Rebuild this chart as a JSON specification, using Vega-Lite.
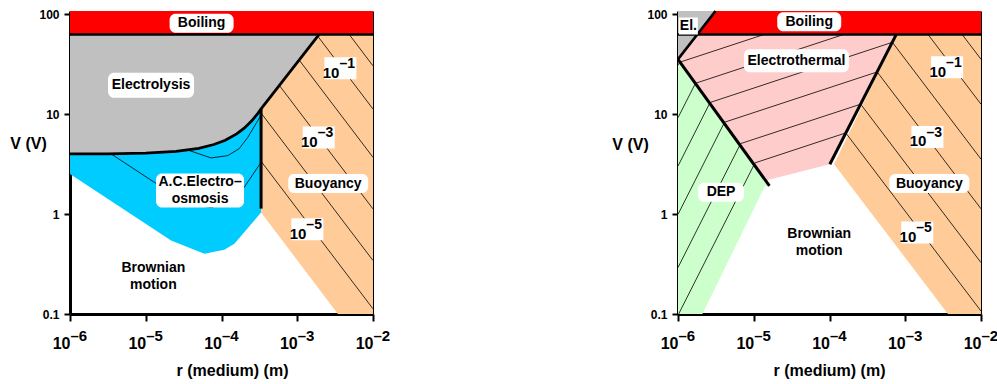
{
  "$schema": "https://vega.github.io/schema/vega-lite/v6.json",
  "padding": {"left": 9, "top": 5, "right": 0, "bottom": 5},
  "bounds": "flush",
  "spacing": 305,
  "config": {
    "font": "Liberation Sans",
    "view": {"stroke": null},
    "axis": {"labelFont": "Liberation Sans", "titleFont": "Liberation Sans", "grid": false}
  },
  "datasets": {
    "regions": [
      {"p":"L","poly":"L1","zone":"boiling","i":0,"r":1e-6,"V":108},
      {"p":"L","poly":"L1","zone":"boiling","i":1,"r":1e-2,"V":108},
      {"p":"L","poly":"L1","zone":"boiling","i":2,"r":1e-2,"V":63},
      {"p":"L","poly":"L1","zone":"boiling","i":3,"r":1e-6,"V":63},
      {"p":"L","poly":"L2","zone":"electrolysis","i":0,"r":1e-6,"V":63},
      {"p":"L","poly":"L2","zone":"electrolysis","i":1,"r":1e-6,"V":4.0},
      {"p":"L","poly":"L2","zone":"electrolysis","i":2,"r":3.16e-6,"V":4.01},
      {"p":"L","poly":"L2","zone":"electrolysis","i":3,"r":1e-5,"V":4.07},
      {"p":"L","poly":"L2","zone":"electrolysis","i":4,"r":2.51e-5,"V":4.25},
      {"p":"L","poly":"L2","zone":"electrolysis","i":5,"r":5.01e-5,"V":4.56},
      {"p":"L","poly":"L2","zone":"electrolysis","i":6,"r":7.94e-5,"V":4.97},
      {"p":"L","poly":"L2","zone":"electrolysis","i":7,"r":1.122e-4,"V":5.5},
      {"p":"L","poly":"L2","zone":"electrolysis","i":8,"r":1.585e-4,"V":6.36},
      {"p":"L","poly":"L2","zone":"electrolysis","i":9,"r":1.995e-4,"V":7.26},
      {"p":"L","poly":"L2","zone":"electrolysis","i":10,"r":2.51e-4,"V":8.59},
      {"p":"L","poly":"L2","zone":"electrolysis","i":11,"r":3.02e-4,"V":10.2},
      {"p":"L","poly":"L2","zone":"electrolysis","i":12,"r":3.33e-4,"V":11.3},
      {"p":"L","poly":"L2","zone":"electrolysis","i":13,"r":1.945e-3,"V":63},
      {"p":"L","poly":"L3","zone":"aceo","i":0,"r":1e-6,"V":4.0},
      {"p":"L","poly":"L3","zone":"aceo","i":1,"r":3.16e-6,"V":4.01},
      {"p":"L","poly":"L3","zone":"aceo","i":2,"r":1e-5,"V":4.07},
      {"p":"L","poly":"L3","zone":"aceo","i":3,"r":2.51e-5,"V":4.25},
      {"p":"L","poly":"L3","zone":"aceo","i":4,"r":5.01e-5,"V":4.56},
      {"p":"L","poly":"L3","zone":"aceo","i":5,"r":7.94e-5,"V":4.97},
      {"p":"L","poly":"L3","zone":"aceo","i":6,"r":1.122e-4,"V":5.5},
      {"p":"L","poly":"L3","zone":"aceo","i":7,"r":1.585e-4,"V":6.36},
      {"p":"L","poly":"L3","zone":"aceo","i":8,"r":1.995e-4,"V":7.26},
      {"p":"L","poly":"L3","zone":"aceo","i":9,"r":2.51e-4,"V":8.59},
      {"p":"L","poly":"L3","zone":"aceo","i":10,"r":3.02e-4,"V":10.2},
      {"p":"L","poly":"L3","zone":"aceo","i":11,"r":3.33e-4,"V":11.3},
      {"p":"L","poly":"L3","zone":"aceo","i":12,"r":3.33e-4,"V":1.04},
      {"p":"L","poly":"L3","zone":"aceo","i":13,"r":1.479e-4,"V":0.504},
      {"p":"L","poly":"L3","zone":"aceo","i":14,"r":1.091e-4,"V":0.439},
      {"p":"L","poly":"L3","zone":"aceo","i":15,"r":5.94e-5,"V":0.40},
      {"p":"L","poly":"L3","zone":"aceo","i":16,"r":2.16e-5,"V":0.543},
      {"p":"L","poly":"L3","zone":"aceo","i":17,"r":1e-6,"V":2.52},
      {"p":"L","poly":"L4","zone":"buoyancy","i":0,"r":3.33e-4,"V":11.3},
      {"p":"L","poly":"L4","zone":"buoyancy","i":1,"r":1.945e-3,"V":63},
      {"p":"L","poly":"L4","zone":"buoyancy","i":2,"r":1e-2,"V":63},
      {"p":"L","poly":"L4","zone":"buoyancy","i":3,"r":1e-2,"V":0.1},
      {"p":"L","poly":"L4","zone":"buoyancy","i":4,"r":3.44e-3,"V":0.1},
      {"p":"L","poly":"L4","zone":"buoyancy","i":5,"r":3.33e-4,"V":1.04},
      {"p":"R","poly":"R1","zone":"boiling","i":0,"r":3.13e-6,"V":108},
      {"p":"R","poly":"R1","zone":"boiling","i":1,"r":1e-2,"V":108},
      {"p":"R","poly":"R1","zone":"boiling","i":2,"r":1e-2,"V":63},
      {"p":"R","poly":"R1","zone":"boiling","i":3,"r":1.8e-6,"V":63},
      {"p":"R","poly":"R2","zone":"electrolysis","i":0,"r":1e-6,"V":108},
      {"p":"R","poly":"R2","zone":"electrolysis","i":1,"r":3.13e-6,"V":108},
      {"p":"R","poly":"R2","zone":"electrolysis","i":2,"r":1e-6,"V":35.5},
      {"p":"R","poly":"R3","zone":"electrothermal","i":0,"r":1e-6,"V":35.5},
      {"p":"R","poly":"R3","zone":"electrothermal","i":1,"r":1.8e-6,"V":63},
      {"p":"R","poly":"R3","zone":"electrothermal","i":2,"r":7.62e-4,"V":63},
      {"p":"R","poly":"R3","zone":"electrothermal","i":3,"r":1.01e-4,"V":3.16},
      {"p":"R","poly":"R3","zone":"electrothermal","i":4,"r":1.528e-5,"V":2.2},
      {"p":"R","poly":"R3","zone":"electrothermal","i":5,"r":1.61e-5,"V":1.92},
      {"p":"R","poly":"R4","zone":"dep","i":0,"r":1e-6,"V":35.5},
      {"p":"R","poly":"R4","zone":"dep","i":1,"r":1.61e-5,"V":1.92},
      {"p":"R","poly":"R4","zone":"dep","i":2,"r":1.413e-5,"V":1.92},
      {"p":"R","poly":"R4","zone":"dep","i":3,"r":2.1e-6,"V":0.1},
      {"p":"R","poly":"R4","zone":"dep","i":4,"r":1e-6,"V":0.1},
      {"p":"R","poly":"R5","zone":"buoyancy","i":0,"r":7.62e-4,"V":63},
      {"p":"R","poly":"R5","zone":"buoyancy","i":1,"r":1e-2,"V":63},
      {"p":"R","poly":"R5","zone":"buoyancy","i":2,"r":1e-2,"V":0.1},
      {"p":"R","poly":"R5","zone":"buoyancy","i":3,"r":3.66e-3,"V":0.1},
      {"p":"R","poly":"R5","zone":"buoyancy","i":4,"r":1.15e-4,"V":3.16}
    ],
    "thick": [
      {"p":"L","id":"Lb","kind":"boil","i":0,"r":1e-6,"V":63},
      {"p":"L","id":"Lb","kind":"boil","i":1,"r":1e-2,"V":63},
      {"p":"L","id":"Lc","kind":"curve","i":0,"r":1e-6,"V":4.0},
      {"p":"L","id":"Lc","kind":"curve","i":1,"r":3.16e-6,"V":4.01},
      {"p":"L","id":"Lc","kind":"curve","i":2,"r":1e-5,"V":4.07},
      {"p":"L","id":"Lc","kind":"curve","i":3,"r":2.51e-5,"V":4.25},
      {"p":"L","id":"Lc","kind":"curve","i":4,"r":5.01e-5,"V":4.56},
      {"p":"L","id":"Lc","kind":"curve","i":5,"r":7.94e-5,"V":4.97},
      {"p":"L","id":"Lc","kind":"curve","i":6,"r":1.122e-4,"V":5.5},
      {"p":"L","id":"Lc","kind":"curve","i":7,"r":1.585e-4,"V":6.36},
      {"p":"L","id":"Lc","kind":"curve","i":8,"r":1.995e-4,"V":7.26},
      {"p":"L","id":"Lc","kind":"curve","i":9,"r":2.51e-4,"V":8.59},
      {"p":"L","id":"Lc","kind":"curve","i":10,"r":3.02e-4,"V":10.2},
      {"p":"L","id":"Lc","kind":"curve","i":11,"r":3.33e-4,"V":11.3},
      {"p":"L","id":"Lc","kind":"curve","i":12,"r":1.945e-3,"V":63},
      {"p":"L","id":"Lbar","kind":"bar","i":0,"r":3.33e-4,"V":11.3},
      {"p":"L","id":"Lbar","kind":"bar","i":1,"r":3.33e-4,"V":1.135},
      {"p":"R","id":"Rb","kind":"boil","i":0,"r":1e-6,"V":63},
      {"p":"R","id":"Rb","kind":"boil","i":1,"r":1e-2,"V":63},
      {"p":"R","id":"Rel","kind":"curve","i":0,"r":1e-6,"V":35.5},
      {"p":"R","id":"Rel","kind":"curve","i":1,"r":3.13e-6,"V":108},
      {"p":"R","id":"Rdep","kind":"bar","i":0,"r":1e-6,"V":35.5},
      {"p":"R","id":"Rdep","kind":"bar","i":1,"r":1.61e-5,"V":1.92},
      {"p":"R","id":"Rright","kind":"bar","i":0,"r":1.01e-4,"V":3.16},
      {"p":"R","id":"Rright","kind":"bar","i":1,"r":7.62e-4,"V":63}
    ],
    "hatch": [
      {"p":"L","id":"hL1","i":0,"r":4.84e-3,"V":63},{"p":"L","id":"hL1","i":1,"r":1e-2,"V":30.5},
      {"p":"L","id":"hL2","i":0,"r":1.862e-3,"V":60.5},{"p":"L","id":"hL2","i":1,"r":1e-2,"V":11.27},
      {"p":"L","id":"hL3","i":0,"r":1.059e-3,"V":34.9},{"p":"L","id":"hL3","i":1,"r":1e-2,"V":3.70},
      {"p":"L","id":"hL4","i":0,"r":5.81e-4,"V":19.4},{"p":"L","id":"hL4","i":1,"r":1e-2,"V":1.127},
      {"p":"L","id":"hL5","i":0,"r":3.33e-4,"V":10.28},{"p":"L","id":"hL5","i":1,"r":1e-2,"V":0.343},
      {"p":"L","id":"hL6","i":0,"r":3.33e-4,"V":3.38},{"p":"L","id":"hL6","i":1,"r":1e-2,"V":0.1127},
      {"p":"L","id":"aL1","i":0,"r":3.48e-6,"V":4.01},
      {"p":"L","id":"aL1","i":1,"r":1.30e-5,"V":2.08},
      {"p":"L","id":"aL1","i":2,"r":3.96e-5,"V":1.27},
      {"p":"L","id":"aL1","i":3,"r":7.29e-5,"V":1.16},
      {"p":"L","id":"aL1","i":4,"r":1.26e-4,"V":1.33},
      {"p":"L","id":"aL1","i":5,"r":1.97e-4,"V":1.83},
      {"p":"L","id":"aL1","i":6,"r":3.33e-4,"V":3.3},
      {"p":"L","id":"aL2","i":0,"r":3.59e-5,"V":4.38},
      {"p":"L","id":"aL2","i":1,"r":7.29e-5,"V":3.65},
      {"p":"L","id":"aL2","i":2,"r":1.21e-4,"V":3.85},
      {"p":"L","id":"aL2","i":3,"r":1.71e-4,"V":4.52},
      {"p":"L","id":"aL2","i":4,"r":2.22e-4,"V":5.86},
      {"p":"L","id":"aL2","i":5,"r":3.33e-4,"V":9.8},
      {"p":"R","id":"hR1","i":0,"r":5.62e-3,"V":63},{"p":"R","id":"hR1","i":1,"r":1e-2,"V":35.5},
      {"p":"R","id":"hR2","i":0,"r":1.995e-3,"V":63},{"p":"R","id":"hR2","i":1,"r":1e-2,"V":12.6},
      {"p":"R","id":"hR3","i":0,"r":6.76e-4,"V":52.5},{"p":"R","id":"hR3","i":1,"r":1e-2,"V":3.55},
      {"p":"R","id":"hR4","i":0,"r":4.26e-4,"V":26.5},{"p":"R","id":"hR4","i":1,"r":1e-2,"V":1.13},
      {"p":"R","id":"hR5","i":0,"r":2.58e-4,"V":12.6},{"p":"R","id":"hR5","i":1,"r":1e-2,"V":0.327},
      {"p":"R","id":"hR6","i":0,"r":1.64e-4,"V":6.5},{"p":"R","id":"hR6","i":1,"r":1e-2,"V":0.107},
      {"p":"R","id":"dR0","i":0,"r":1e-6,"V":30.9},{"p":"R","id":"dR0","i":1,"r":1.047e-6,"V":33.1},
      {"p":"R","id":"dR1","i":0,"r":1e-6,"V":9.23},{"p":"R","id":"dR1","i":1,"r":1.70e-6,"V":20.4},
      {"p":"R","id":"dR2","i":0,"r":1e-6,"V":3.03},{"p":"R","id":"dR2","i":1,"r":2.65e-6,"V":13.1},
      {"p":"R","id":"dR3","i":0,"r":1e-6,"V":0.994},{"p":"R","id":"dR3","i":1,"r":4.12e-6,"V":8.32},
      {"p":"R","id":"dR4","i":0,"r":1e-6,"V":0.292},{"p":"R","id":"dR4","i":1,"r":6.71e-6,"V":5.08},
      {"p":"R","id":"dR5","i":0,"r":1.02e-6,"V":0.1},{"p":"R","id":"dR5","i":1,"r":1.04e-5,"V":3.26},
      {"p":"R","id":"eR1","i":0,"r":1.047e-6,"V":33.1},{"p":"R","id":"eR1","i":1,"r":1.38e-5,"V":63},
      {"p":"R","id":"eR2","i":0,"r":1.70e-6,"V":20.4},{"p":"R","id":"eR2","i":1,"r":1.55e-4,"V":63},
      {"p":"R","id":"eR3","i":0,"r":2.65e-6,"V":13.1},{"p":"R","id":"eR3","i":1,"r":6.76e-4,"V":52.5},
      {"p":"R","id":"eR4","i":0,"r":4.12e-6,"V":8.32},{"p":"R","id":"eR4","i":1,"r":4.26e-4,"V":26.5},
      {"p":"R","id":"eR5","i":0,"r":6.71e-6,"V":5.08},{"p":"R","id":"eR5","i":1,"r":2.58e-4,"V":12.6},
      {"p":"R","id":"eR6","i":0,"r":1.04e-5,"V":3.26},{"p":"R","id":"eR6","i":1,"r":1.64e-4,"V":6.5}
    ],
    "labels": [
      {"p":"L","text":"Boiling","box":"boil","r":5.46e-5,"V":81.3},
      {"p":"L","text":"Electrolysis","box":"electrolysis","r":1.175e-5,"V":19.5},
      {"p":"L","text":"A.C.Electro–\nosmosis","box":"aceo","r":5.21e-5,"V":1.72},
      {"p":"L","text":"Buoyancy","box":"buoy","r":2.56e-3,"V":2.02},
      {"p":"L","text":"Brownian\nmotion","box":"none","r":1.26e-5,"V":0.237},
      {"p":"R","text":"Boiling","box":"boil","r":5.4e-5,"V":84.1},
      {"p":"R","text":"El.","box":"el","r":1.37e-6,"V":76.4},
      {"p":"R","text":"Electrothermal","box":"etherm","r":3.66e-5,"V":34.4},
      {"p":"R","text":"Buoyancy","box":"buoy","r":2.08e-3,"V":2.02},
      {"p":"R","text":"DEP","box":"dep","r":3.7e-6,"V":1.66},
      {"p":"R","text":"Brownian\nmotion","box":"none","r":7.31e-5,"V":0.516}
    ],
    "expo": [
      {"p":"L","base":"10","exp":"–1","r":3.71e-3,"V":28.8},
      {"p":"L","base":"10","exp":"–3","r":1.92e-3,"V":5.86},
      {"p":"L","base":"10","exp":"–5","r":1.36e-3,"V":0.705},
      {"p":"R","base":"10","exp":"–1","r":3.57e-3,"V":29.5},
      {"p":"R","base":"10","exp":"–3","r":1.96e-3,"V":5.93},
      {"p":"R","base":"10","exp":"–5","r":1.44e-3,"V":0.656}
    ]
  },
  "hconcat": [
    {
      "width": 303, "height": 303,
      "resolve": {"axis": {"x": "independent", "y": "independent"}},
      "layer": [
        {
          "data": {"name": "regions"},
          "transform": [{"filter": "datum.p === 'L'"}],
          "mark": {"type": "line", "interpolate": "linear-closed", "strokeWidth": 0, "clip": false},
          "encoding": {
            "x": {"field": "r", "type": "quantitative", "scale": {"type": "log", "domain": [1e-6, 1e-2], "nice": false},
              "axis": {"orient": "bottom", "values": [1e-6, 1e-5, 1e-4, 1e-3, 1e-2], "labelExpr": "'10'", "labelAlign": "right", "labelDx": 3, "labelBaseline": "alphabetic", "labelPadding": 27, "labelFontSize": 16, "labelFontWeight": "bold", "labelColor": "black", "labelFlush": false, "labelOverlap": false, "tickSize": 7, "tickWidth": 2, "tickColor": "black", "domainWidth": 3, "domainColor": "black", "title": "r (medium) (m)", "titleFontSize": 16, "titleFontWeight": "bold", "titleColor": "black", "titleX": 162, "titleY": 56, "titleBaseline": "middle", "titleAlign": "center"}},
            "y": {"field": "V", "type": "quantitative", "scale": {"type": "log", "domain": [0.1, 108], "nice": false},
              "axis": {"orient": "left", "values": [0.1, 1, 10, 100], "labelExpr": "datum.value < 0.5 ? '0.1' : datum.value < 5 ? '1' : datum.value < 50 ? '10' : '100'", "labelFontSize": 12, "labelFontWeight": "bold", "labelColor": "black", "labelPadding": 5, "labelFlush": false, "labelOverlap": false, "tickSize": 6, "tickWidth": 2, "tickColor": "black", "domainWidth": 3, "domainColor": "black", "title": "V (V)", "titleAngle": 0, "titleX": -42, "titleY": 132, "titleAlign": "center", "titleBaseline": "middle", "titleFontSize": 16, "titleFontWeight": "bold", "titleColor": "black"}},
            "detail": {"field": "poly"},
            "order": {"field": "i"},
            "fill": {"field": "zone", "type": "nominal", "scale": {"domain": ["boiling", "electrolysis", "aceo", "buoyancy", "electrothermal", "dep"], "range": ["#FF0000", "#C0C0C0", "#00CCFF", "#FFCC99", "#FFCCCC", "#CCFFCC"]}, "legend": null}
          }
        },
        {
          "data": {"name": "hatch"},
          "transform": [{"filter": "datum.p === 'L'"}],
          "mark": {"type": "line", "color": "black", "strokeWidth": 0.8},
          "encoding": {
            "x": {"field": "r", "type": "quantitative", "scale": {"type": "log", "domain": [1e-6, 1e-2], "nice": false}, "axis": null},
            "y": {"field": "V", "type": "quantitative", "scale": {"type": "log", "domain": [0.1, 108], "nice": false}, "axis": null},
            "detail": {"field": "id"},
            "order": {"field": "i"}
          }
        },
        {
          "data": {"name": "thick"},
          "transform": [{"filter": "datum.p === 'L'"}],
          "mark": {"type": "line", "color": "black"},
          "encoding": {
            "x": {"field": "r", "type": "quantitative", "scale": {"type": "log", "domain": [1e-6, 1e-2], "nice": false},
              "axis": {"orient": "bottom", "values": [1e-6, 1e-5, 1e-4, 1e-3, 1e-2], "labelExpr": "datum.value < 5e-6 ? '–6' : datum.value < 5e-5 ? '–5' : datum.value < 5e-4 ? '–4' : datum.value < 5e-3 ? '–3' : '–2'", "labelAlign": "left", "labelDx": 3, "labelBaseline": "alphabetic", "labelPadding": 26, "labelFontSize": 15, "labelFontWeight": "bold", "labelColor": "black", "labelFlush": false, "labelOverlap": false, "ticks": false, "domain": false, "title": null}},
            "y": {"field": "V", "type": "quantitative", "scale": {"type": "log", "domain": [0.1, 108], "nice": false},
              "axis": {"orient": "right", "values": [0.2, 0.3, 0.4, 0.5, 0.6, 0.7, 0.8, 0.9, 2, 3, 4, 5, 6, 7, 8, 9, 20, 30, 40, 50, 60, 70, 80, 90], "labels": false, "tickSize": -4, "tickWidth": 1, "tickColor": "black", "domainWidth": 1, "domainColor": "black", "title": null}},
            "detail": {"field": "id"},
            "order": {"field": "i"},
            "strokeWidth": {"field": "kind", "type": "nominal", "scale": {"domain": ["boil", "curve", "bar"], "range": [2.5, 3, 5]}, "legend": null}
          }
        },
        {
          "data": {"name": "labels"},
          "transform": [{"filter": "datum.p === 'L' && datum.box !== 'none'"}],
          "mark": {"type": "point", "filled": true, "size": 4, "color": "white", "opacity": 1, "strokeWidth": 0},
          "encoding": {
            "x": {"field": "r", "type": "quantitative", "scale": {"type": "log", "domain": [1e-6, 1e-2], "nice": false}, "axis": null},
            "y": {"field": "V", "type": "quantitative", "scale": {"type": "log", "domain": [0.1, 108], "nice": false}, "axis": null},
            "shape": {"field": "box", "type": "nominal", "legend": null, "scale": {"domain": ["boil", "electrolysis", "aceo", "buoy", "el", "etherm", "dep"], "range": [
              "M-26,-9.5H26A6,6 0 0 1 32,-3.5V3.5A6,6 0 0 1 26,9.5H-26A6,6 0 0 1 -32,3.5V-3.5A6,6 0 0 1 -26,-9.5Z",
              "M-37,-12.5H37A6,6 0 0 1 43,-6.5V6.5A6,6 0 0 1 37,12.5H-37A6,6 0 0 1 -43,6.5V-6.5A6,6 0 0 1 -37,-12.5Z",
              "M-38,-17H38A6,6 0 0 1 44,-11V11A6,6 0 0 1 38,17H-38A6,6 0 0 1 -44,11V-11A6,6 0 0 1 -38,-17Z",
              "M-34,-9.5H34A6,6 0 0 1 40,-3.5V3.5A6,6 0 0 1 34,9.5H-34A6,6 0 0 1 -40,3.5V-3.5A6,6 0 0 1 -34,-9.5Z",
              "M-9.5,-8.5H9.5V8.5H-9.5Z",
              "M-46.5,-11.5H46.5A6,6 0 0 1 52.5,-5.5V5.5A6,6 0 0 1 46.5,11.5H-46.5A6,6 0 0 1 -52.5,5.5V-5.5A6,6 0 0 1 -46.5,-11.5Z",
              "M-17,-9.5H17A6,6 0 0 1 23,-3.5V3.5A6,6 0 0 1 17,9.5H-17A6,6 0 0 1 -23,3.5V-3.5A6,6 0 0 1 -17,-9.5Z"]}}
          }
        },
        {
          "data": {"name": "expo"},
          "transform": [{"filter": "datum.p === 'L'"}],
          "mark": {"type": "point", "filled": true, "size": 4, "color": "white", "opacity": 1, "strokeWidth": 0, "shape": "M-16,-11H16V11H-16Z"},
          "encoding": {
            "x": {"field": "r", "type": "quantitative", "scale": {"type": "log", "domain": [1e-6, 1e-2], "nice": false}, "axis": null},
            "y": {"field": "V", "type": "quantitative", "scale": {"type": "log", "domain": [0.1, 108], "nice": false}, "axis": null}
          }
        },
        {
          "data": {"name": "labels"},
          "transform": [{"filter": "datum.p === 'L' && datum.box !== 'aceo' && datum.box !== 'none'"}],
          "mark": {"type": "text", "fontSize": 14, "fontWeight": "bold", "align": "center", "baseline": "middle", "color": "black"},
          "encoding": {
            "x": {"field": "r", "type": "quantitative", "scale": {"type": "log", "domain": [1e-6, 1e-2], "nice": false}, "axis": null},
            "y": {"field": "V", "type": "quantitative", "scale": {"type": "log", "domain": [0.1, 108], "nice": false}, "axis": null},
            "text": {"field": "text"}
          }
        },
        {
          "data": {"name": "labels"},
          "transform": [{"filter": "datum.p === 'L' && (datum.box === 'aceo' || datum.box === 'none')"}],
          "mark": {"type": "text", "fontSize": 14, "fontWeight": "bold", "lineBreak": "\n", "lineHeight": 17, "align": "center", "baseline": "middle", "dy": -8.5, "color": "black"},
          "encoding": {
            "x": {"field": "r", "type": "quantitative", "scale": {"type": "log", "domain": [1e-6, 1e-2], "nice": false}, "axis": null},
            "y": {"field": "V", "type": "quantitative", "scale": {"type": "log", "domain": [0.1, 108], "nice": false}, "axis": null},
            "text": {"field": "text"}
          }
        },
        {
          "data": {"name": "expo"},
          "transform": [{"filter": "datum.p === 'L'"}],
          "mark": {"type": "text", "fontSize": 15, "fontWeight": "bold", "align": "right", "baseline": "alphabetic", "dx": -1, "dy": 9.5, "color": "black"},
          "encoding": {
            "x": {"field": "r", "type": "quantitative", "scale": {"type": "log", "domain": [1e-6, 1e-2], "nice": false}, "axis": null},
            "y": {"field": "V", "type": "quantitative", "scale": {"type": "log", "domain": [0.1, 108], "nice": false}, "axis": null},
            "text": {"field": "base"}
          }
        },
        {
          "data": {"name": "expo"},
          "transform": [{"filter": "datum.p === 'L'"}],
          "mark": {"type": "text", "fontSize": 14, "fontWeight": "bold", "align": "left", "baseline": "alphabetic", "dx": -1, "dy": 0, "color": "black"},
          "encoding": {
            "x": {"field": "r", "type": "quantitative", "scale": {"type": "log", "domain": [1e-6, 1e-2], "nice": false}, "axis": null},
            "y": {"field": "V", "type": "quantitative", "scale": {"type": "log", "domain": [0.1, 108], "nice": false}, "axis": null},
            "text": {"field": "exp"}
          }
        }
      ]
    },
    {
      "width": 303, "height": 303,
      "resolve": {"axis": {"x": "independent", "y": "independent"}},
      "layer": [
        {
          "data": {"name": "regions"},
          "transform": [{"filter": "datum.p === 'R'"}],
          "mark": {"type": "line", "interpolate": "linear-closed", "strokeWidth": 0, "clip": false},
          "encoding": {
            "x": {"field": "r", "type": "quantitative", "scale": {"type": "log", "domain": [1e-6, 1e-2], "nice": false},
              "axis": {"orient": "bottom", "values": [1e-6, 1e-5, 1e-4, 1e-3, 1e-2], "labelExpr": "'10'", "labelAlign": "right", "labelDx": 3, "labelBaseline": "alphabetic", "labelPadding": 27, "labelFontSize": 16, "labelFontWeight": "bold", "labelColor": "black", "labelFlush": false, "labelOverlap": false, "tickSize": 7, "tickWidth": 2, "tickColor": "black", "domainWidth": 3, "domainColor": "black", "title": "r (medium) (m)", "titleFontSize": 16, "titleFontWeight": "bold", "titleColor": "black", "titleX": 151, "titleY": 56, "titleBaseline": "middle", "titleAlign": "center"}},
            "y": {"field": "V", "type": "quantitative", "scale": {"type": "log", "domain": [0.1, 108], "nice": false},
              "axis": {"orient": "left", "values": [0.1, 1, 10, 100], "labelExpr": "datum.value < 0.5 ? '0.1' : datum.value < 5 ? '1' : datum.value < 50 ? '10' : '100'", "labelFontSize": 12, "labelFontWeight": "bold", "labelColor": "black", "labelPadding": 5, "labelFlush": false, "labelOverlap": false, "tickSize": 6, "tickWidth": 2, "tickColor": "black", "domainWidth": 3, "domainColor": "black", "title": "V (V)", "titleAngle": 0, "titleX": -48, "titleY": 133, "titleAlign": "center", "titleBaseline": "middle", "titleFontSize": 16, "titleFontWeight": "bold", "titleColor": "black"}},
            "detail": {"field": "poly"},
            "order": {"field": "i"},
            "fill": {"field": "zone", "type": "nominal", "scale": {"domain": ["boiling", "electrolysis", "aceo", "buoyancy", "electrothermal", "dep"], "range": ["#FF0000", "#C0C0C0", "#00CCFF", "#FFCC99", "#FFCCCC", "#CCFFCC"]}, "legend": null}
          }
        },
        {
          "data": {"name": "hatch"},
          "transform": [{"filter": "datum.p === 'R'"}],
          "mark": {"type": "line", "color": "black", "strokeWidth": 0.8},
          "encoding": {
            "x": {"field": "r", "type": "quantitative", "scale": {"type": "log", "domain": [1e-6, 1e-2], "nice": false}, "axis": null},
            "y": {"field": "V", "type": "quantitative", "scale": {"type": "log", "domain": [0.1, 108], "nice": false}, "axis": null},
            "detail": {"field": "id"},
            "order": {"field": "i"}
          }
        },
        {
          "data": {"name": "thick"},
          "transform": [{"filter": "datum.p === 'R'"}],
          "mark": {"type": "line", "color": "black"},
          "encoding": {
            "x": {"field": "r", "type": "quantitative", "scale": {"type": "log", "domain": [1e-6, 1e-2], "nice": false},
              "axis": {"orient": "bottom", "values": [1e-6, 1e-5, 1e-4, 1e-3, 1e-2], "labelExpr": "datum.value < 5e-6 ? '–6' : datum.value < 5e-5 ? '–5' : datum.value < 5e-4 ? '–4' : datum.value < 5e-3 ? '–3' : '–2'", "labelAlign": "left", "labelDx": 3, "labelBaseline": "alphabetic", "labelPadding": 26, "labelFontSize": 15, "labelFontWeight": "bold", "labelColor": "black", "labelFlush": false, "labelOverlap": false, "ticks": false, "domain": false, "title": null}},
            "y": {"field": "V", "type": "quantitative", "scale": {"type": "log", "domain": [0.1, 108], "nice": false},
              "axis": {"orient": "right", "values": [0.2, 0.3, 0.4, 0.5, 0.6, 0.7, 0.8, 0.9, 2, 3, 4, 5, 6, 7, 8, 9, 20, 30, 40, 50, 60, 70, 80, 90], "labels": false, "tickSize": -4, "tickWidth": 1, "tickColor": "black", "domainWidth": 1, "domainColor": "black", "title": null}},
            "detail": {"field": "id"},
            "order": {"field": "i"},
            "strokeWidth": {"field": "kind", "type": "nominal", "scale": {"domain": ["boil", "curve", "bar"], "range": [2.5, 3, 5]}, "legend": null}
          }
        },
        {
          "data": {"name": "labels"},
          "transform": [{"filter": "datum.p === 'R' && datum.box !== 'none'"}],
          "mark": {"type": "point", "filled": true, "size": 4, "color": "white", "opacity": 1, "strokeWidth": 0},
          "encoding": {
            "x": {"field": "r", "type": "quantitative", "scale": {"type": "log", "domain": [1e-6, 1e-2], "nice": false}, "axis": null},
            "y": {"field": "V", "type": "quantitative", "scale": {"type": "log", "domain": [0.1, 108], "nice": false}, "axis": null},
            "shape": {"field": "box", "type": "nominal", "legend": null, "scale": {"domain": ["boil", "electrolysis", "aceo", "buoy", "el", "etherm", "dep"], "range": [
              "M-26,-9.5H26A6,6 0 0 1 32,-3.5V3.5A6,6 0 0 1 26,9.5H-26A6,6 0 0 1 -32,3.5V-3.5A6,6 0 0 1 -26,-9.5Z",
              "M-37,-12.5H37A6,6 0 0 1 43,-6.5V6.5A6,6 0 0 1 37,12.5H-37A6,6 0 0 1 -43,6.5V-6.5A6,6 0 0 1 -37,-12.5Z",
              "M-38,-17H38A6,6 0 0 1 44,-11V11A6,6 0 0 1 38,17H-38A6,6 0 0 1 -44,11V-11A6,6 0 0 1 -38,-17Z",
              "M-34,-9.5H34A6,6 0 0 1 40,-3.5V3.5A6,6 0 0 1 34,9.5H-34A6,6 0 0 1 -40,3.5V-3.5A6,6 0 0 1 -34,-9.5Z",
              "M-9.5,-8.5H9.5V8.5H-9.5Z",
              "M-46.5,-11.5H46.5A6,6 0 0 1 52.5,-5.5V5.5A6,6 0 0 1 46.5,11.5H-46.5A6,6 0 0 1 -52.5,5.5V-5.5A6,6 0 0 1 -46.5,-11.5Z",
              "M-17,-9.5H17A6,6 0 0 1 23,-3.5V3.5A6,6 0 0 1 17,9.5H-17A6,6 0 0 1 -23,3.5V-3.5A6,6 0 0 1 -17,-9.5Z"]}}
          }
        },
        {
          "data": {"name": "expo"},
          "transform": [{"filter": "datum.p === 'R'"}],
          "mark": {"type": "point", "filled": true, "size": 4, "color": "white", "opacity": 1, "strokeWidth": 0, "shape": "M-16,-11H16V11H-16Z"},
          "encoding": {
            "x": {"field": "r", "type": "quantitative", "scale": {"type": "log", "domain": [1e-6, 1e-2], "nice": false}, "axis": null},
            "y": {"field": "V", "type": "quantitative", "scale": {"type": "log", "domain": [0.1, 108], "nice": false}, "axis": null}
          }
        },
        {
          "data": {"name": "labels"},
          "transform": [{"filter": "datum.p === 'R' && datum.box !== 'aceo' && datum.box !== 'none'"}],
          "mark": {"type": "text", "fontSize": 14, "fontWeight": "bold", "align": "center", "baseline": "middle", "color": "black"},
          "encoding": {
            "x": {"field": "r", "type": "quantitative", "scale": {"type": "log", "domain": [1e-6, 1e-2], "nice": false}, "axis": null},
            "y": {"field": "V", "type": "quantitative", "scale": {"type": "log", "domain": [0.1, 108], "nice": false}, "axis": null},
            "text": {"field": "text"}
          }
        },
        {
          "data": {"name": "labels"},
          "transform": [{"filter": "datum.p === 'R' && (datum.box === 'aceo' || datum.box === 'none')"}],
          "mark": {"type": "text", "fontSize": 14, "fontWeight": "bold", "lineBreak": "\n", "lineHeight": 17, "align": "center", "baseline": "middle", "dy": -8.5, "color": "black"},
          "encoding": {
            "x": {"field": "r", "type": "quantitative", "scale": {"type": "log", "domain": [1e-6, 1e-2], "nice": false}, "axis": null},
            "y": {"field": "V", "type": "quantitative", "scale": {"type": "log", "domain": [0.1, 108], "nice": false}, "axis": null},
            "text": {"field": "text"}
          }
        },
        {
          "data": {"name": "expo"},
          "transform": [{"filter": "datum.p === 'R'"}],
          "mark": {"type": "text", "fontSize": 15, "fontWeight": "bold", "align": "right", "baseline": "alphabetic", "dx": -1, "dy": 9.5, "color": "black"},
          "encoding": {
            "x": {"field": "r", "type": "quantitative", "scale": {"type": "log", "domain": [1e-6, 1e-2], "nice": false}, "axis": null},
            "y": {"field": "V", "type": "quantitative", "scale": {"type": "log", "domain": [0.1, 108], "nice": false}, "axis": null},
            "text": {"field": "base"}
          }
        },
        {
          "data": {"name": "expo"},
          "transform": [{"filter": "datum.p === 'R'"}],
          "mark": {"type": "text", "fontSize": 14, "fontWeight": "bold", "align": "left", "baseline": "alphabetic", "dx": -1, "dy": 0, "color": "black"},
          "encoding": {
            "x": {"field": "r", "type": "quantitative", "scale": {"type": "log", "domain": [1e-6, 1e-2], "nice": false}, "axis": null},
            "y": {"field": "V", "type": "quantitative", "scale": {"type": "log", "domain": [0.1, 108], "nice": false}, "axis": null},
            "text": {"field": "exp"}
          }
        }
      ]
    }
  ]
}
